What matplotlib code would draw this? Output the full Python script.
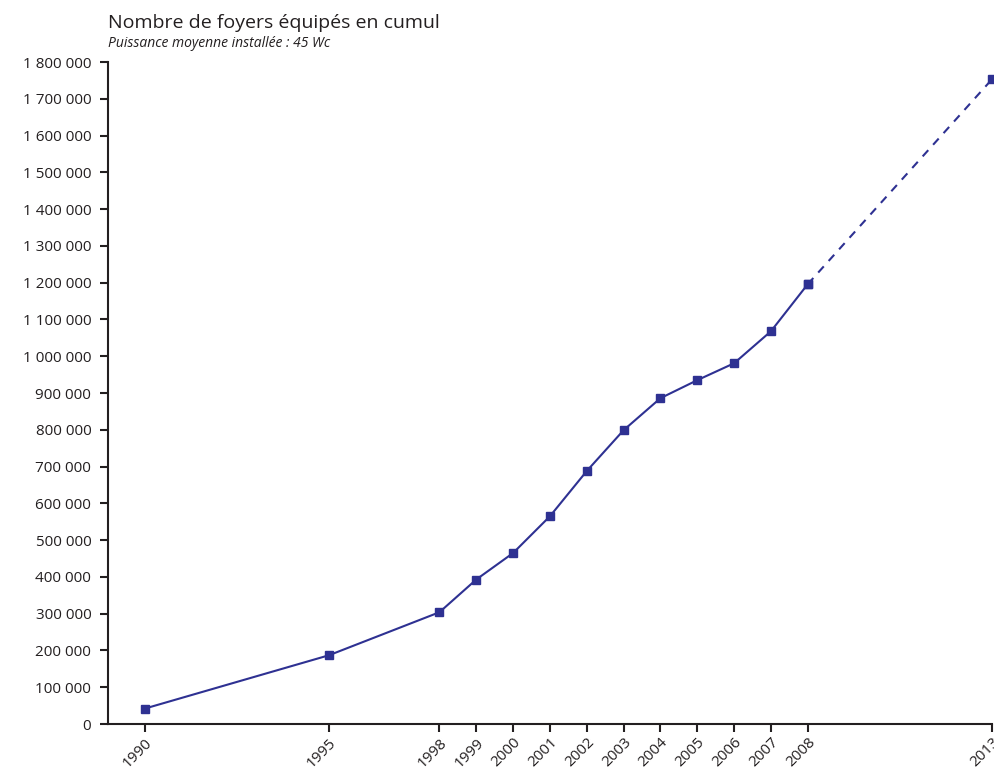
import matplotlib
matplotlib.use("Agg")
import matplotlib.pyplot as plt
from matplotlib.ticker import FuncFormatter

plt.rcParams['font.family'] = ['Open Sans', 'DejaVu Sans']

years = [1990, 1995, 1998, 1999, 2000, 2001, 2002, 2003, 2004, 2005, 2006, 2007, 2008]
foyers = [42000, 187000, 304000, 393000, 465000, 565000, 688000, 799000,
          886000, 935000, 981000, 1068000, 1196000]
proj_years = [2008, 2013]
proj_foyers = [1196000, 1753000]
tick_years = years + [2013]

color = '#2e3192'

fig = plt.figure(figsize=(9.95, 7.7), dpi=100)
ax = fig.add_axes([0.1085, 0.0597, 0.8884, 0.8597])

ax.plot(years, foyers, color=color, lw=1.5, marker='s', ms=5.5, clip_on=False)
ax.plot(proj_years, proj_foyers, color=color, lw=1.5, ls=(0, (4, 3.5)),
        marker='s', ms=5.5, clip_on=False)

ax.set_xlim(1989, 2013)
ax.set_ylim(0, 1800000)
ax.set_yticks(range(0, 1800001, 100000))
ax.yaxis.set_major_formatter(FuncFormatter(lambda v, p: f"{int(v):,}".replace(',', ' ')))
ax.set_xticks(tick_years)
ax.set_xticklabels([str(y) for y in tick_years], rotation=45, ha='right',
                   rotation_mode='anchor')

for s in ['top', 'right']:
    ax.spines[s].set_visible(False)
for s in ['left', 'bottom']:
    ax.spines[s].set_linewidth(1.5)
    ax.spines[s].set_color('#231f20')
ax.tick_params(length=6, width=1.5, color='#231f20', labelsize=11,
               labelcolor='#231f20')
ax.tick_params(axis='y', pad=6)
ax.tick_params(axis='x', pad=2)

fig.text(0.1085, 0.970, "Nombre de foyers équipés en cumul", fontsize=14,
         color='#231f20', va='center')
fig.text(0.1085, 0.943, "Puissance moyenne installée : 45 Wc", fontsize=10,
         style='italic', color='#231f20', va='center')

fig.savefig("out.png", dpi=100)
